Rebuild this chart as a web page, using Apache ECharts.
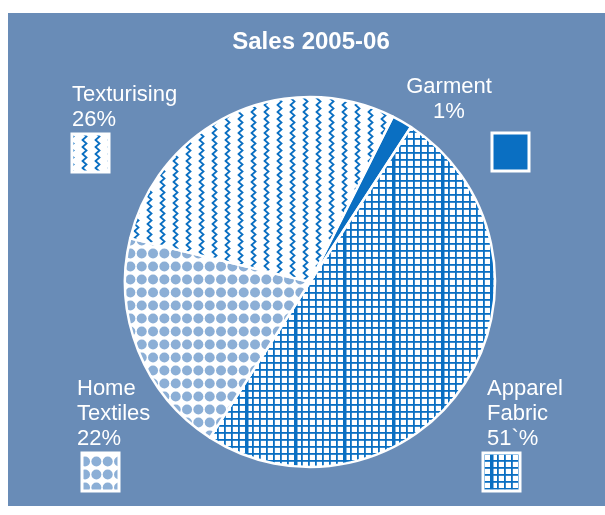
<!DOCTYPE html>
<html><head><meta charset="utf-8">
<script src="https://cdn.jsdelivr.net/npm/echarts@6/dist/echarts.min.js"></script>
<style>html,body{margin:0;padding:0;background:#fff}#c{width:605px;height:515px}</style>
</head><body><div id="c"></div>
<script>
// ---- data ----
const titleText = 'Sales 2005-06';
const categories = ['Garment', 'Apparel Fabric', 'Home Textiles', 'Texturising'];
// slice sizes as drawn in the picture (share of the circle, %)
const values = [1.8, 49.9, 19.7, 28.6];
// label texts as printed on the chart
const labelLines = [
  ['Garment', '1%'],
  ['Apparel', 'Fabric', '51`%'],
  ['Home', 'Textiles', '22%'],
  ['Texturising', '26%']
];

// ---- styles ----
const BG = '#698cb7';
const BLUE = '#0a6fc2';
const DOT = '#8cafd6';
const FONT = '"Liberation Sans", Arial, sans-serif';

function mk(w, h, draw) {
  const c = document.createElement('canvas');
  c.width = w; c.height = h;
  const g = c.getContext('2d');
  g.fillStyle = '#fff'; g.fillRect(0, 0, w, h);
  draw(g);
  return c;
}
const zigzag = mk(13, 7, g => {
  g.strokeStyle = BLUE; g.lineWidth = 1.8; g.lineJoin = 'miter';
  g.beginPath(); g.moveTo(4, -0.5); g.lineTo(8.5, 3.5); g.lineTo(4, 7.5); g.stroke();
});
const dots = mk(34, 13, g => {
  g.fillStyle = DOT;
  for (let i = 0; i < 3; i++) { g.beginPath(); g.arc(5.7 + i * 11.33, 6.5, 5, 0, Math.PI * 2); g.fill(); }
});
const grid = mk(49, 7, g => {
  g.fillStyle = BLUE;
  for (let x = 0; x < 49; x += 7) g.fillRect(x, 0, x === 0 ? 3.5 : 1.8, 7);
  g.fillRect(0, 5, 49, 1.8);
});
const fills = [BLUE,
  { image: grid, repeat: 'repeat' },
  { image: dots, repeat: 'repeat' },
  { image: zigzag, repeat: 'repeat' }];

// label & swatch placement (layout only)
const labelPos = [
  { x: 449, y: 74, align: 'center' },
  { x: 487, y: 376, align: 'left' },
  { x: 77, y: 376, align: 'left' },
  { x: 72, y: 82, align: 'left' }
];
const swatchPos = [[492, 133], [483, 453], [82, 453], [72, 134]];

const graphics = [{
  type: 'rect', silent: true, z: -10,
  shape: { x: 8, y: 13, width: 597, height: 493 },
  style: { fill: BG }
}];
categories.forEach((c, i) => {
  graphics.push({
    type: 'text', silent: true,
    style: {
      text: labelLines[i].join('\n'), x: labelPos[i].x, y: labelPos[i].y,
      fill: '#fff', font: '22px ' + FONT, lineHeight: 25,
      align: labelPos[i].align, verticalAlign: 'top'
    }
  });
  graphics.push({
    type: 'rect', silent: true,
    shape: { x: swatchPos[i][0], y: swatchPos[i][1], width: 37, height: 38 },
    style: { fill: fills[i], stroke: '#fff', lineWidth: 3 }
  });
});

const chart = echarts.init(document.getElementById('c'), null, { renderer: 'canvas' });
chart.setOption({
  animation: false,
  backgroundColor: '#fff',
  title: {
    text: titleText, left: 306, top: 25, textAlign: 'center',
    textStyle: { color: '#fff', fontSize: 24, fontWeight: 'bold', fontFamily: FONT }
  },
  graphic: graphics,
  series: [{
    type: 'pie',
    center: [310, 282],
    radius: [0, 185],
    startAngle: 63.4,
    clockwise: true,
    label: { show: false },
    labelLine: { show: false },
    emphasis: { disabled: true },
    itemStyle: { borderColor: '#fff', borderWidth: 2.5 },
    data: categories.map((n, i) => ({ name: n, value: values[i], itemStyle: { color: fills[i] } }))
  }]
});
</script></body></html>
